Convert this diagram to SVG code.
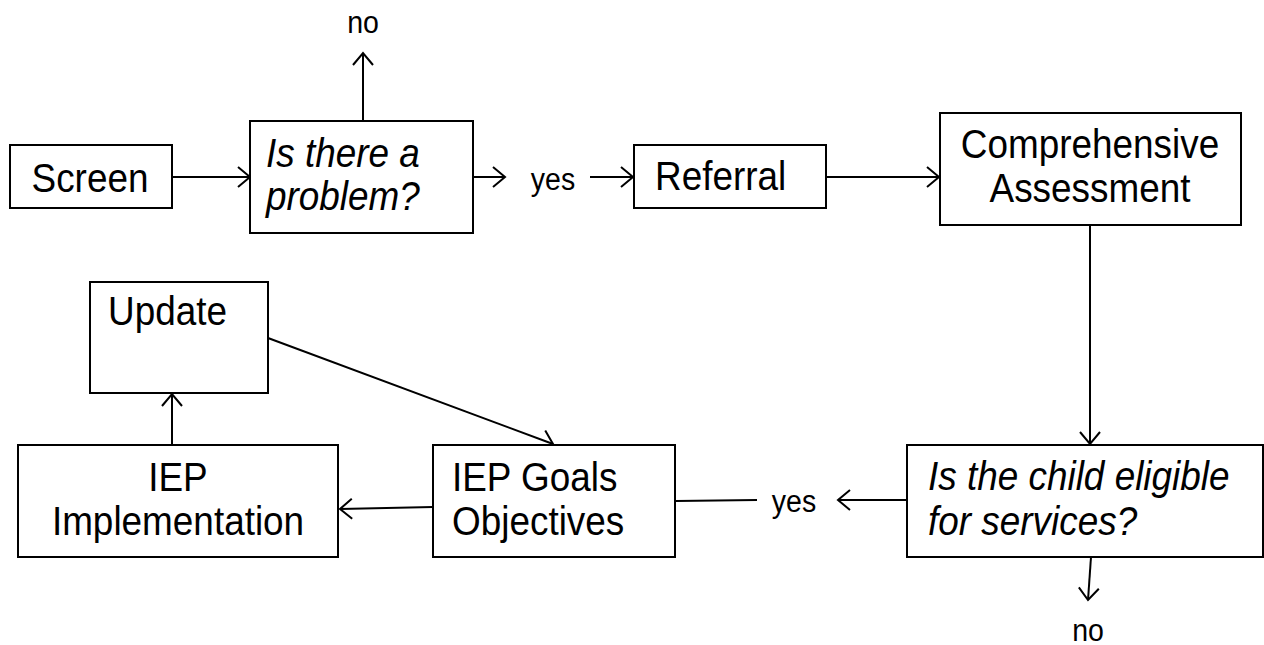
<svg xmlns="http://www.w3.org/2000/svg" width="1264" height="645" viewBox="0 0 1264 645">
  <style>
    .box { fill: #ffffff; stroke: #000000; stroke-width: 2; }
    .lbl { font-family: "Liberation Sans", Arial, sans-serif; font-size: 41px; fill: #000000; }
    .q { font-style: italic; }
    .small { font-family: "Liberation Sans", Arial, sans-serif; font-size: 31px; fill: #000000; }
    .edge { fill: none; stroke: #000000; stroke-width: 2; }
  </style>
  <defs>
    <marker id="open" viewBox="0 0 16 22" refX="14" refY="11" markerWidth="16" markerHeight="22" markerUnits="userSpaceOnUse" orient="auto">
      <path d="M2,1 L14,11 L2,21" fill="none" stroke="#000000" stroke-width="2"/>
    </marker>
  </defs>
  <rect width="1264" height="645" fill="#ffffff"/>

  <g id="connectors">
    <line class="edge" x1="363" y1="121" x2="363" y2="53" marker-end="url(#open)"/>
    <line class="edge" x1="172" y1="177" x2="250" y2="177" marker-end="url(#open)"/>
    <line class="edge" x1="473" y1="177" x2="505" y2="177" marker-end="url(#open)"/>
    <line class="edge" x1="590" y1="177" x2="633" y2="177" marker-end="url(#open)"/>
    <line class="edge" x1="826" y1="177" x2="939" y2="177" marker-end="url(#open)"/>
    <line class="edge" x1="1090" y1="225" x2="1090" y2="444" marker-end="url(#open)"/>
    <line class="edge" x1="907" y1="500" x2="838" y2="500" marker-end="url(#open)"/>
    <line class="edge" x1="757" y1="500" x2="676" y2="501"/>
    <line class="edge" x1="433" y1="507" x2="340" y2="509" marker-end="url(#open)"/>
    <line class="edge" x1="172" y1="445" x2="172" y2="394" marker-end="url(#open)"/>
    <line class="edge" x1="268" y1="338" x2="553" y2="444" marker-end="url(#open)"/>
    <line class="edge" x1="1091" y1="557" x2="1088" y2="600" marker-end="url(#open)"/>
    <text class="small" transform="translate(363,33) scale(0.92,1)" text-anchor="middle">no</text>
    <text class="small" transform="translate(553,190) scale(0.92,1)" text-anchor="middle">yes</text>
    <text class="small" transform="translate(794,512) scale(0.92,1)" text-anchor="middle">yes</text>
    <text class="small" transform="translate(1088,641) scale(0.92,1)" text-anchor="middle">no</text>
  </g>

  <g id="screen">
    <rect class="box" x="10" y="145" width="162" height="63"/>
    <text class="lbl" transform="translate(90,192) scale(0.9,1)" text-anchor="middle">Screen</text>
  </g>

  <g id="problem">
    <rect class="box" x="250" y="121" width="223" height="112"/>
    <text class="lbl q" transform="translate(266,167) scale(0.9,1)">Is there a</text>
    <text class="lbl q" transform="translate(266,210) scale(0.9,1)">problem?</text>
  </g>

  <g id="referral">
    <rect class="box" x="634" y="145" width="192" height="63"/>
    <text class="lbl" transform="translate(655,190) scale(0.9,1)">Referral</text>
  </g>

  <g id="assessment">
    <rect class="box" x="940" y="113" width="301" height="112"/>
    <text class="lbl" transform="translate(1090,158) scale(0.9,1)" text-anchor="middle">Comprehensive</text>
    <text class="lbl" transform="translate(1090,202) scale(0.9,1)" text-anchor="middle">Assessment</text>
  </g>

  <g id="eligible">
    <rect class="box" x="907" y="445" width="356" height="112"/>
    <text class="lbl q" transform="translate(928,490) scale(0.9,1)">Is the child eligible</text>
    <text class="lbl q" transform="translate(928,535) scale(0.9,1)">for services?</text>
  </g>

  <g id="goals">
    <rect class="box" x="433" y="445" width="242" height="112"/>
    <text class="lbl" transform="translate(452,491) scale(0.9,1)">IEP Goals</text>
    <text class="lbl" transform="translate(452,535) scale(0.9,1)">Objectives</text>
  </g>

  <g id="implementation">
    <rect class="box" x="18" y="445" width="320" height="112"/>
    <text class="lbl" transform="translate(178,491) scale(0.9,1)" text-anchor="middle">IEP</text>
    <text class="lbl" transform="translate(178,535) scale(0.9,1)" text-anchor="middle">Implementation</text>
  </g>

  <g id="update">
    <rect class="box" x="90" y="282" width="178" height="111"/>
    <text class="lbl" transform="translate(108,325) scale(0.9,1)">Update</text>
  </g>
</svg>
